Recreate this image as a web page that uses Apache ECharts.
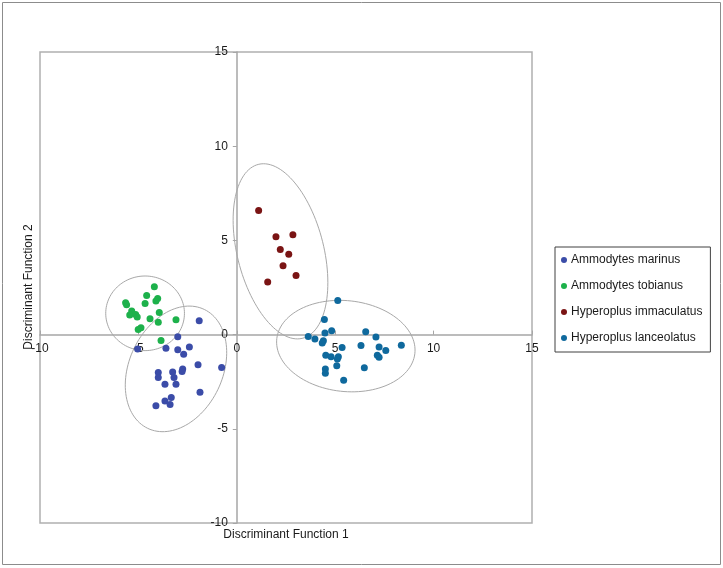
<!DOCTYPE html>
<html>
<head>
<meta charset="utf-8">
<script src="https://cdn.jsdelivr.net/npm/echarts@6/dist/echarts.min.js"></script>
<style>html,body{margin:0;padding:0;background:#fff}#c{width:723px;height:568px}</style>
</head>
<body>
<div id="c"></div>
<script>
// ---- data ----
const seriesNames = ['Ammodytes marinus', 'Ammodytes tobianus', 'Hyperoplus immaculatus', 'Hyperoplus lanceolatus'];
const seriesColors = ['#3B4CA8', '#1DB14B', '#7A1414', '#0F699D'];

const marinus = [
  [-1.91, 0.73], [-3.00, -0.12], [-5.04, -0.77], [-3.60, -0.72], [-3.00, -0.81],
  [-2.41, -0.66], [-2.70, -1.04], [-1.97, -1.60], [-0.77, -1.75], [-3.99, -2.01],
  [-3.99, -2.28], [-3.26, -1.98], [-2.75, -1.83], [-2.78, -1.96], [-3.19, -2.28],
  [-3.65, -2.63], [-3.09, -2.63], [-1.87, -3.06], [-3.33, -3.34], [-3.65, -3.52],
  [-3.39, -3.71], [-4.11, -3.77]
];
const tobianus = [
  [-4.19, 2.54], [-4.58, 2.08], [-4.02, 1.92], [-4.11, 1.78], [-5.65, 1.69],
  [-5.60, 1.58], [-4.66, 1.65], [-5.34, 1.25], [-5.44, 1.04], [-5.14, 1.07],
  [-5.06, 0.93], [-3.94, 1.17], [-4.41, 0.84], [-3.09, 0.79], [-3.99, 0.66],
  [-4.87, 0.36], [-5.01, 0.27], [-3.85, -0.31]
];
const immaculatus = [
  [1.11, 6.59], [1.99, 5.20], [2.85, 5.30], [2.21, 4.52], [2.64, 4.26],
  [2.35, 3.66], [3.01, 3.14], [1.57, 2.79]
];
const lanceolatus = [
  [5.13, 1.81], [4.45, 0.80], [3.63, -0.10], [3.97, -0.24], [4.48, 0.08],
  [4.82, 0.20], [4.40, -0.33], [4.34, -0.45], [5.35, -0.69], [4.52, -1.09],
  [4.79, -1.18], [5.16, -1.18], [5.11, -1.30], [5.08, -1.66], [4.50, -1.82],
  [4.50, -2.05], [5.43, -2.42], [6.55, 0.15], [7.07, -0.13], [6.31, -0.58],
  [7.23, -0.66], [7.57, -0.84], [7.14, -1.09], [7.23, -1.20], [8.36, -0.56],
  [6.48, -1.76]
];
// confidence ellipses: [centerX, centerY, semiMajor, semiMinor, angleDeg]
const ellipses = [
  [-3.09, -1.82, 3.47, 2.39, 67.5],
  [-4.66, 1.13, 2.00, 1.98, 0],
  [2.22, 4.42, 4.75, 2.20, -76.6],
  [5.54, -0.61, 3.53, 2.41, -6.6]
];
const axisMin = -10, axisMax = 15, axisStep = 5;

// ---- chart ----
const chart = echarts.init(document.getElementById('c'));
const FONT = 'Liberation Sans';
const GRID = { left: 40, top: 52, width: 492, height: 471 };
// place each axis (line, ticks, labels) on the other axis's zero
const xAxisOffset = -GRID.height * (0 - axisMin) / (axisMax - axisMin);
const yAxisOffset = -GRID.width * (0 - axisMin) / (axisMax - axisMin);

function ellipseItem(params, api) {
  const cx = api.value(0), cy = api.value(1), a = api.value(2), b = api.value(3);
  const ang = api.value(4) * Math.PI / 180;
  const pts = [];
  const n = 120;
  for (let i = 0; i < n; i++) {
    const t = 2 * Math.PI * i / n;
    const x = cx + a * Math.cos(t) * Math.cos(ang) - b * Math.sin(t) * Math.sin(ang);
    const y = cy + a * Math.cos(t) * Math.sin(ang) + b * Math.sin(t) * Math.cos(ang);
    pts.push(api.coord([x, y]));
  }
  return {
    type: 'polygon',
    shape: { points: pts },
    style: { fill: 'none', stroke: '#A8A8A8', lineWidth: 1 },
    silent: true
  };
}

const dataSets = [marinus, tobianus, immaculatus, lanceolatus];
const scatterSeries = dataSets.map((d, i) => ({
  name: seriesNames[i],
  type: 'scatter',
  data: d,
  symbol: 'circle',
  symbolSize: 7,
  itemStyle: { color: seriesColors[i], opacity: 1 },
  z: 3
}));

chart.setOption({
  animation: false,
  backgroundColor: '#fff',
  grid: Object.assign({}, GRID, {
    show: true, borderColor: '#B0B0B0', borderWidth: 1.5, backgroundColor: 'transparent'
  }),
  xAxis: {
    type: 'value', min: axisMin, max: axisMax, interval: axisStep,
    position: 'bottom', offset: xAxisOffset,
    axisLine: { show: true, onZero: false, lineStyle: { color: '#A6A6A6', width: 1.5 } },
    axisTick: { show: true, inside: true, length: 4, lineStyle: { color: '#A6A6A6' } },
    axisLabel: { color: '#1a1a1a', fontFamily: FONT, fontSize: 12, margin: 8, showMinLabel: true, showMaxLabel: true },
    splitLine: { show: false }
  },
  yAxis: {
    type: 'value', min: axisMin, max: axisMax, interval: axisStep,
    position: 'left', offset: yAxisOffset,
    axisLine: { show: true, onZero: false, lineStyle: { color: '#A6A6A6', width: 1.5 } },
    axisTick: { show: true, length: 4, lineStyle: { color: '#A6A6A6' } },
    axisLabel: { color: '#1a1a1a', fontFamily: FONT, fontSize: 12, margin: 9, showMinLabel: true, showMaxLabel: true },
    splitLine: { show: false }
  },
  legend: {
    data: seriesNames,
    orient: 'vertical',
    left: 555, top: 247,
    padding: [7, 8, 8, 6],
    itemGap: 14,
    itemWidth: 6, itemHeight: 6,
    icon: 'circle',
    borderColor: '#404040', borderWidth: 1,
    textStyle: { color: '#1a1a1a', fontFamily: FONT, fontSize: 12, padding: [0, 0, 0, -1] }
  },
  graphic: [
    { type: 'rect', shape: { x: 2.5, y: 2.5, width: 718, height: 562 }, style: { fill: 'none', stroke: '#8C8C8C', lineWidth: 1 }, silent: true, z: -10 },
    { type: 'text', x: 286, y: 535, style: { text: 'Discriminant Function 1', fill: '#1a1a1a', font: '12px ' + FONT, textAlign: 'center', textVerticalAlign: 'middle' } },
    { type: 'text', x: 29, y: 287, rotation: Math.PI / 2, style: { text: 'Discriminant Function 2', fill: '#1a1a1a', font: '12px ' + FONT, textAlign: 'center', textVerticalAlign: 'middle' } }
  ],
  series: [
    {
      name: 'ellipses', type: 'custom', renderItem: ellipseItem, data: ellipses,
      encode: { x: 0, y: 1 }, silent: true, z: 1, clip: false
    }
  ].concat(scatterSeries)
});
</script>
</body>
</html>
